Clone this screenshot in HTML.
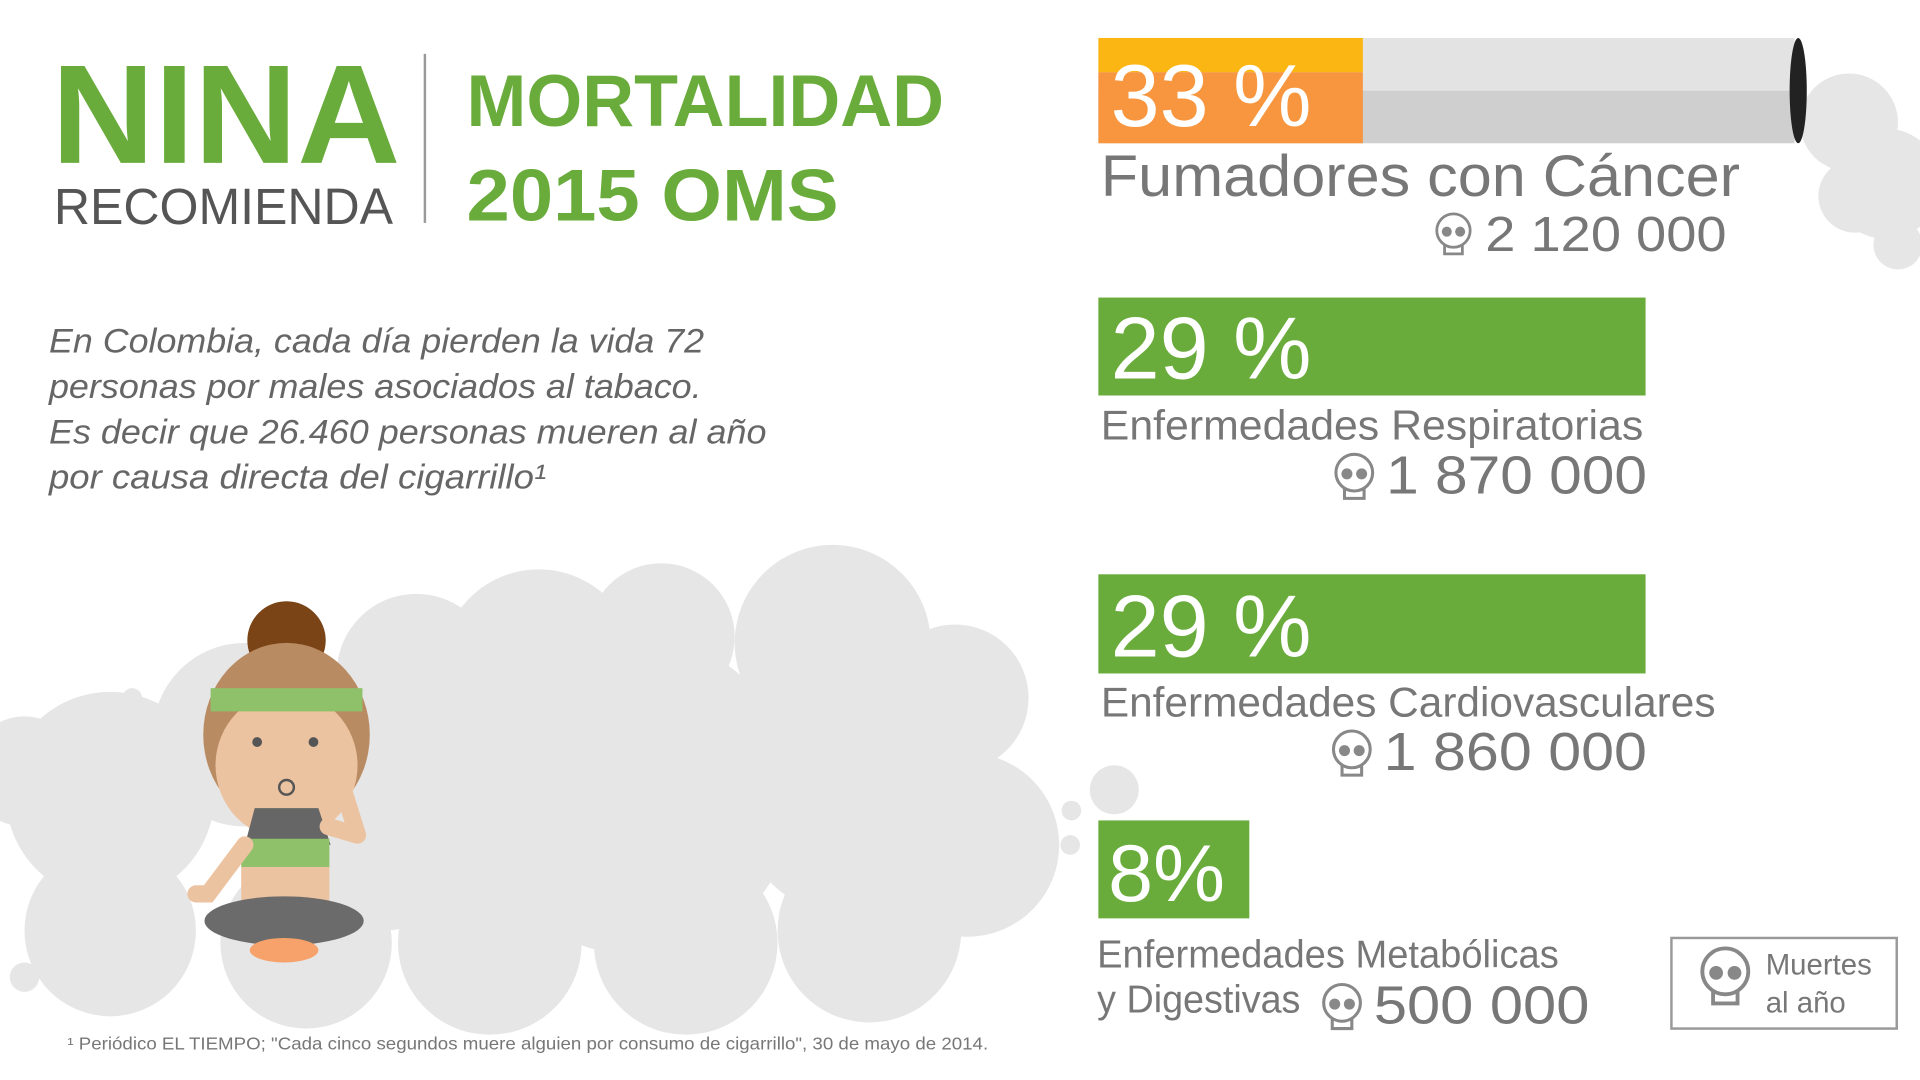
<!DOCTYPE html>
<html><head><meta charset="utf-8">
<style>
html,body{margin:0;padding:0;background:#fff;overflow:hidden}
svg{display:block}
text{font-family:"Liberation Sans",sans-serif}
</style></head>
<body>
<svg id="root" width="1920" height="1080" viewBox="0 0 1568 882" xmlns="http://www.w3.org/2000/svg">
<g id="clouds" fill="#e6e6e6"></g>
<g>
<text x="42" y="133" font-size="115" font-weight="bold" fill="#6aac3c" textLength="285" lengthAdjust="spacingAndGlyphs">NINA</text>
<text x="44" y="183" font-size="42" fill="#555" textLength="277" lengthAdjust="spacingAndGlyphs">RECOMIENDA</text>
<line x1="347" y1="44" x2="347" y2="182" stroke="#999" stroke-width="2"/>
<text x="381" y="103" font-size="60" font-weight="bold" fill="#6aac3c" textLength="390" lengthAdjust="spacingAndGlyphs">MORTALIDAD</text>
<text x="381" y="180" font-size="60" font-weight="bold" fill="#6aac3c" textLength="304" lengthAdjust="spacingAndGlyphs">2015 OMS</text>
</g>
<g font-size="28" font-style="italic" fill="#666">
<text x="40" y="288" textLength="535" lengthAdjust="spacingAndGlyphs">En Colombia, cada día pierden la vida 72</text>
<text x="40" y="325" textLength="533" lengthAdjust="spacingAndGlyphs">personas por males asociados al tabaco.</text>
<text x="40" y="362" textLength="586" lengthAdjust="spacingAndGlyphs">Es decir que 26.460 personas mueren al año</text>
<text x="40" y="399" textLength="406" lengthAdjust="spacingAndGlyphs">por causa directa del cigarrillo¹</text>
</g>
<text x="55" y="857" font-size="14" fill="#777" textLength="752" lengthAdjust="spacingAndGlyphs">¹ Periódico EL TIEMPO; "Cada cinco segundos muere alguien por consumo de cigarrillo", 30 de mayo de 2014.</text>
<g>
<circle cx="234" cy="523" r="32" fill="#7a4416"/>
<ellipse cx="234" cy="600" rx="68" ry="75" fill="#b98b62"/>
<ellipse cx="234" cy="625" rx="58" ry="60" fill="#ecc3a0"/>
<rect x="172" y="562" width="124" height="19" fill="#8fc06a"/>
<circle cx="210" cy="606" r="4" fill="#555"/><circle cx="256" cy="606" r="4" fill="#555"/>
<circle cx="234" cy="643" r="6" fill="none" stroke="#555" stroke-width="2"/>
<path d="M208 660 L260 660 L270 690 L200 690 Z" fill="#666"/>
<rect x="197" y="685" width="72" height="24" fill="#8fc06a"/>
<rect x="197" y="708" width="72" height="30" fill="#ecc3a0"/>
<path d="M200 690 L170 730 L160 730" stroke="#ecc3a0" stroke-width="14" fill="none" stroke-linecap="round"/>
<path d="M268 675 L292 682 L282 650" stroke="#ecc3a0" stroke-width="14" fill="none" stroke-linecap="round" stroke-linejoin="round"/>
<ellipse cx="232" cy="752" rx="65" ry="20" fill="#6b6b6b"/>
<ellipse cx="232" cy="776" rx="28" ry="10" fill="#f7a26b"/>
</g>
<g id="bars"></g>
<g>
<rect x="1365" y="766" width="184" height="74" fill="#fff" stroke="#999" stroke-width="2"/>
<g id="legend-skull"></g>
<text x="1442" y="796" font-size="24" fill="#777">Muertes</text>
<text x="1442" y="827" font-size="24" fill="#777">al año</text>
</g>
</svg>
<script>
const categories = ["Fumadores con Cáncer", "Enfermedades Respiratorias", "Enfermedades Cardiovasculares", "Enfermedades Metabólicas|y Digestivas"];
const percents = [33, 29, 29, 8];
const deaths = ["2 120 000", "1 870 000", "1 860 000", "500 000"];
const NS = "http://www.w3.org/2000/svg";
function mk(tag, attrs, parent){const e=document.createElementNS(NS,tag);for(const k in attrs)e.setAttribute(k,attrs[k]);parent.appendChild(e);return e;}
function xScale(p){return p*15.41;}
const clouds=[[90,650,85],[200,600,75],[340,550,65],[440,545,80],[540,520,60],[680,525,80],[780,570,60],[790,690,75],[710,760,75],[560,770,75],[400,770,75],[250,770,70],[90,760,70],[20,630,45],[310,650,110],[520,650,130],[700,650,100],[910,645,20],[875,662,8],[874,690,8],[108,570,8],[20,798,12],[1510,100,40],[1540,150,45],[1550,200,20],[1515,160,30]];
const cg=document.getElementById('clouds');
clouds.forEach(c=>{const e=mk('circle',{cx:c[0],cy:c[1],r:c[2]},cg);

});
function skull(g,cx,cy,s){const k=mk('g',{transform:`translate(${cx},${cy}) scale(${s})`},g);


mk('circle',{cx:0,cy:-3,r:15,fill:'none',stroke:'#888','stroke-width':2.5},k);
mk('path',{d:'M-8 10 L-8 18 L8 18 L8 10',fill:'none',stroke:'#888','stroke-width':2.5},k);
mk('circle',{cx:-6,cy:-2,r:4.5,fill:'#888'},k);mk('circle',{cx:6,cy:-2,r:4.5,fill:'#888'},k);}
skull(document.getElementById('legend-skull'),1409,797,1.25);
const bg=document.getElementById('bars');
const rows=[{y:31,h:86,lab:160,labSize:48,labW:[522],val:205,valSize:40,valRight:1410,valW:197},{y:243,h:80,lab:359,labSize:34,labW:[443],val:403,valSize:44,valRight:1345,valW:213},{y:469,h:81,lab:585,labSize:34,labW:[502],val:629,valSize:44,valRight:1345,valW:215},{y:670,h:80,lab:790,labSize:32,labW:[377,166],val:836,valSize:44,valRight:1298,valW:176}];
const x0=897;
percents.forEach((p,i)=>{const r=rows[i];const w=xScale(p);
if(i===0){
 const full=w+60;
 const c=mk('rect',{x:x0,y:r.y,width:full,height:r.h/2,fill:'#e3e3e3'},bg);
 
 
 mk('rect',{x:x0,y:r.y+r.h/2,width:full,height:r.h/2,fill:'#cfcfcf'},bg);
 mk('rect',{x:x0,y:r.y,width:216,height:28,fill:'#fbb614'},bg);
 mk('rect',{x:x0,y:r.y+28,width:216,height:r.h-28,fill:'#f7963e'},bg);
 mk('ellipse',{cx:x0+full+3,cy:r.y+r.h/2,rx:7,ry:r.h/2,fill:'#222'},bg);
}else{
 const b=mk('rect',{x:x0,y:r.y,width:w,height:r.h,fill:'#6aac3c'},bg);
 
 
}
const t=mk('text',{x:i===3?905:907,y:r.y+r.h-14,'font-size':i===3?66:72,fill:'#fff'},bg);
t.textContent=p+(i===3?'%':' %');


const parts=categories[i].split('|');
parts.forEach((s,j)=>{const l=mk('text',{x:i===3?896:899,y:r.lab+j*37,'font-size':r.labSize,fill:'#777',textLength:r.labW[j],lengthAdjust:'spacingAndGlyphs'},bg);l.textContent=s;

});
const v=mk('text',{x:r.valRight-r.valW,y:r.val,'font-size':r.valSize,fill:'#777',textLength:r.valW,lengthAdjust:'spacingAndGlyphs'},bg);v.textContent=deaths[i];


skull(bg,r.valRight-r.valW-26,r.val-14,r.valSize/44);
});
</script>
</body></html>
